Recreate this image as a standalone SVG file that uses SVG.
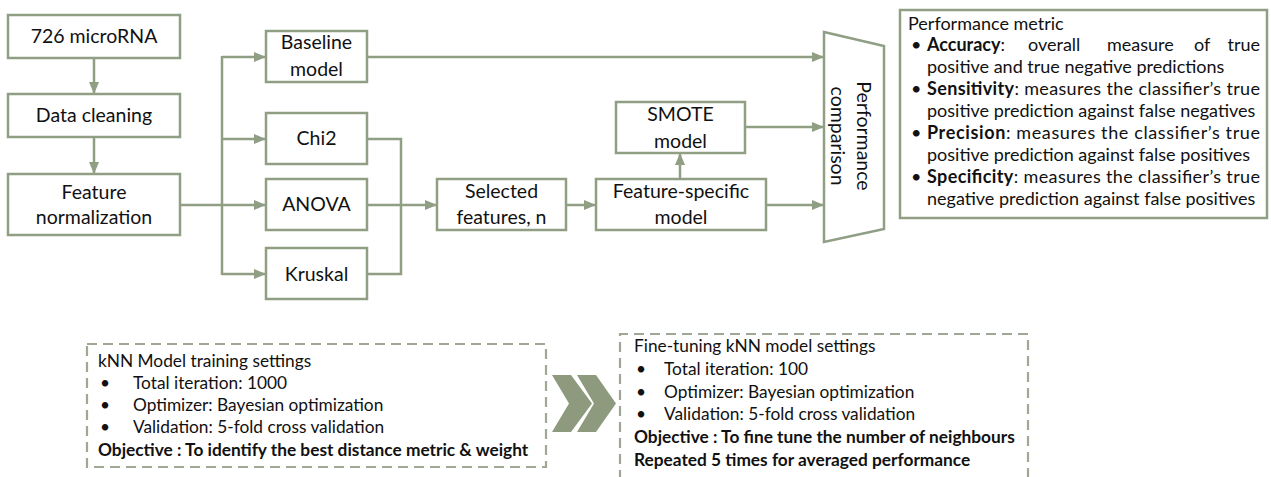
<svg xmlns="http://www.w3.org/2000/svg" width="1271" height="477" viewBox="0 0 1271 477">
<defs>
<style>
.box{fill:#fff;stroke:#909E84;stroke-width:2.5}
.dash{fill:none;stroke:#9FA894;stroke-width:2.2;stroke-dasharray:10 6}
.ln{fill:none;stroke:#909E84;stroke-width:2.5}
.t{font-family:Lato,"Open Sans",sans-serif;font-size:19.5px;fill:#111;text-anchor:middle}
.s{font-family:Lato,"Open Sans",sans-serif;font-size:17.3px;fill:#111}
.m{font-family:Lato,"Open Sans",sans-serif;font-size:18px;fill:#111}
.b{font-weight:bold}
</style>
<marker id="ah" markerUnits="userSpaceOnUse" markerWidth="12" markerHeight="10" refX="11" refY="5" orient="auto">
<path d="M0,0 L12,5 L0,10 z" fill="#909E84"/>
</marker>
</defs>
<g id="connectors">
<line class="ln" x1="94" y1="58" x2="94" y2="93" marker-end="url(#ah)"/>
<line class="ln" x1="94" y1="137" x2="94" y2="173" marker-end="url(#ah)"/>
<polyline class="ln" points="180,205 222,205"/>
<line class="ln" x1="222" y1="56" x2="222" y2="275"/>
<line class="ln" x1="222" y1="57" x2="265" y2="57" marker-end="url(#ah)"/>
<line class="ln" x1="222" y1="139" x2="265" y2="139" marker-end="url(#ah)"/>
<line class="ln" x1="222" y1="205" x2="265" y2="205" marker-end="url(#ah)"/>
<line class="ln" x1="222" y1="274" x2="265" y2="274" marker-end="url(#ah)"/>
<polyline class="ln" points="367,139 401,139 401,274 366,274"/>
<line class="ln" x1="366" y1="205" x2="436" y2="205" marker-end="url(#ah)"/>
<line class="ln" x1="566" y1="205" x2="595" y2="205" marker-end="url(#ah)"/>
<line class="ln" x1="680" y1="179" x2="680" y2="154" marker-end="url(#ah)"/>
<line class="ln" x1="745" y1="127" x2="823" y2="127" marker-end="url(#ah)"/>
<line class="ln" x1="766" y1="205" x2="823" y2="205" marker-end="url(#ah)"/>
<line class="ln" x1="367" y1="57" x2="823" y2="57" marker-end="url(#ah)"/>
</g>
<g id="n-microrna"><rect class="box" x="8" y="15" width="172" height="43"/><text class="t" x="94" y="43">726 microRNA</text></g>
<g id="n-cleaning"><rect class="box" x="8" y="94" width="172" height="43"/><text class="t" x="94" y="122">Data cleaning</text></g>
<g id="n-normalization"><rect class="box" x="8" y="174" width="172" height="61"/><text class="t" x="94" y="199">Feature</text><text class="t" x="94" y="224">normalization</text></g>
<g id="n-baseline"><rect class="box" x="266" y="31" width="101" height="51"/><text class="t" x="316.5" y="49">Baseline</text><text class="t" x="316.5" y="76">model</text></g>
<g id="n-chi2"><rect class="box" x="266" y="113" width="101" height="51"/><text class="t" x="316.5" y="145">Chi2</text></g>
<g id="n-anova"><rect class="box" x="266" y="179" width="101" height="51"/><text class="t" x="316.5" y="211">ANOVA</text></g>
<g id="n-kruskal"><rect class="box" x="266" y="248" width="101" height="51"/><text class="t" x="316.5" y="281">Kruskal</text></g>
<g id="n-selected"><rect class="box" x="437" y="179" width="129" height="51"/><text class="t" x="501.5" y="198">Selected</text><text class="t" x="501.5" y="224">features, n</text></g>
<g id="n-feature-specific"><rect class="box" x="596" y="179" width="170" height="51"/><text class="t" x="681" y="198">Feature-specific</text><text class="t" x="681" y="224">model</text></g>
<g id="n-smote"><rect class="box" x="616" y="102" width="129" height="51"/><text class="t" x="680.5" y="121">SMOTE</text><text class="t" x="680.5" y="148">model</text></g>
<g id="n-comparison"><polygon class="box" points="824,32 884,46 884,229 824,242"/>
<text class="t" transform="translate(857,136) rotate(90)">Performance</text>
<text class="t" transform="translate(831,136) rotate(90)">comparison</text></g>
<g id="n-metric"><rect class="box" x="900" y="10" width="367" height="208"/>
<text class="m" x="908" y="30">Performance metric</text>
<text class="m" x="911" y="51">•</text><text class="m" x="927" y="51"><tspan class="b">Accuracy</tspan>:</text>
<text class="m" x="1028" y="51">overall</text><text class="m" x="1107" y="51">measure</text><text class="m" x="1194" y="51">of</text><text class="m" x="1260" y="51" text-anchor="end">true</text>
<text class="m" x="927" y="73">positive and true negative predictions</text>
<text class="m" x="911" y="95">•</text><text class="m" x="927" y="95" textLength="333" lengthAdjust="spacing"><tspan class="b">Sensitivity</tspan>: measures the classifier’s true</text>
<text class="m" x="927" y="117">positive prediction against false negatives</text>
<text class="m" x="911" y="139">•</text><text class="m" x="927" y="139" textLength="333" lengthAdjust="spacing"><tspan class="b">Precision</tspan>: measures the classifier’s true</text>
<text class="m" x="927" y="161">positive prediction against false positives</text>
<text class="m" x="911" y="183">•</text><text class="m" x="927" y="183" textLength="333" lengthAdjust="spacing"><tspan class="b">Specificity</tspan>: measures the classifier’s true</text>
<text class="m" x="927" y="205">negative prediction against false positives</text>
</g>
<g id="n-training"><rect class="dash" x="87" y="344" width="459" height="123"/>
<text class="s" x="98" y="367">kNN Model training settings</text>
<text class="s" x="100" y="389">•</text><text class="s" x="133" y="389">Total iteration: 1000</text>
<text class="s" x="100" y="411">•</text><text class="s" x="133" y="411">Optimizer: Bayesian optimization</text>
<text class="s" x="100" y="433">•</text><text class="s" x="133" y="433">Validation: 5-fold cross validation</text>
<text class="s b" x="98" y="456">Objective : To identify the best distance metric &amp; weight</text>
</g>
<g id="n-chevron">
<polygon points="552,375 571,375 592,403.5 571,432 552,432 569,403.5" fill="#8E9A7E"/>
<polygon points="577,375 596,375 616,403.5 596,432 577,432 594,403.5" fill="#8E9A7E"/>
</g>
<g id="n-finetune"><path class="dash" d="M620,480 L620,334 L1028,334 L1028,480"/>
<text class="s" x="634" y="352">Fine-tuning kNN model settings</text>
<text class="s" x="636" y="375">•</text><text class="s" x="664" y="375">Total iteration: 100</text>
<text class="s" x="636" y="398">•</text><text class="s" x="664" y="398">Optimizer: Bayesian optimization</text>
<text class="s" x="636" y="420">•</text><text class="s" x="664" y="420">Validation: 5-fold cross validation</text>
<text class="s b" x="634" y="443">Objective : To fine tune the number of neighbours</text>
<text class="s b" x="634" y="466">Repeated 5 times for averaged performance</text>
</g>
</svg>
